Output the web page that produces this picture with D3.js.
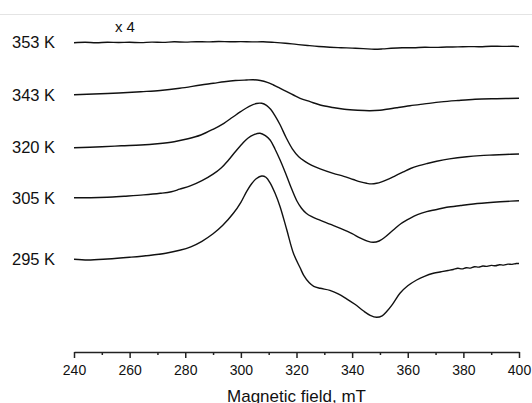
<!DOCTYPE html>
<html>
<head>
<meta charset="utf-8">
<script src="https://cdn.jsdelivr.net/npm/d3@7"></script>
<style>
  html, body { margin: 0; padding: 0; background: #fff; }
  svg { display: block; font-family: Arial, "Liberation Sans", sans-serif; }
</style>
</head>
<body>
<div id="chart"></div>
<script>
// EPR spectra, first derivative, stacked by temperature
const temperatures = ['353 K', '343 K', '320 K', '305 K', '295 K'];
// vertical stacking offsets (arbitrary units)
const offsets = [309.7, 257.3, 204.7, 154.3, 92.7];
const fieldTicks = [240, 260, 280, 300, 320, 340, 360, 380, 400];
const minorTicks = [250, 270, 290, 310, 330, 350, 370, 390];

// [field mT, signal]
const spec353 = [[240, -0.4], [244, 0], [248, -0.4], [252, 0.1], [256, -0.2], [260, 0], [264, -0.3], [268, 0.2],
  [272, -0.1], [276, 0.5], [280, 0.2], [284, 0.6], [288, 0.4], [292, 0.8], [296, 0.5], [300, 0.7], [304, 0.4],
  [308, 0.5], [312, -0.1], [316, -0.9], [320, -2.1], [324, -3.2], [328, -4.2], [332, -4.9], [336, -5.4], [340, -5.8],
  [344, -6.3], [348, -6.9], [351, -6.6], [354, -6], [358, -5.5], [362, -5.5], [366, -5], [370, -5.1], [374, -4.7],
  [378, -4.6], [382, -4.3], [386, -4.4], [390, -3.9], [394, -4.1], [398, -4], [400, -4.3]];

const spec343 = [[240, 0], [252, 1.2], [264, 3], [271, 4.2], [278, 6.4], [285.6, 9.7], [290.1, 11.4], [294, 13],
  [298, 14.2], [302, 14.7], [304.5, 14.9], [307, 14.2], [309.5, 12.4], [311.7, 9.7], [314, 6.5], [316.5, 3],
  [318.9, -0.3], [321.3, -3.6], [324.9, -7], [328.5, -10.3], [333, -12.8], [337.2, -14.6], [342, -15.6],
  [346.4, -16], [350, -15.5], [352.4, -14.6], [356, -13], [360.8, -11], [366, -9.2], [372, -7.2], [378, -5.8],
  [384.2, -4.6], [392, -4], [400, -3.6]];

const spec320 = [[240, -0.5], [250, 0.5], [257, 1.5], [264, 2.3], [270, 3.6], [276, 5.6], [281, 8.5], [285.6, 12.3],
  [290, 18], [293.9, 24], [297, 30], [299.9, 35.6], [303, 41], [305.6, 43.8], [307.5, 44], [309.2, 42], [310.7, 38],
  [312.3, 31.5], [314.1, 22.5], [316.3, 9.5], [318.5, -1.5], [320.8, -9.4], [323, -14], [325.5, -18],
  [328.5, -21.5], [333.2, -26], [337, -29], [340.4, -32.2], [343, -34.6], [345.2, -36], [347, -36.6],
  [348.8, -36], [350.6, -34.5], [352.6, -32.3], [355.5, -28.5], [358.4, -24.6], [361, -21.2], [364, -18.4],
  [367, -16.2], [370.4, -14], [375, -11.6], [381.2, -9.4], [386, -8.3], [390.8, -7.7], [395, -7.2], [400, -6.7]];

const spec305 = [[240, 0], [246, 0], [252, 0.5], [258, 1.5], [265, 2.8], [271, 4.4], [275, 6], [278, 8.5],
  [282, 12], [286, 17], [290, 23.5], [293, 30], [295.5, 37.5], [298, 46], [300.5, 54], [302.5, 59.5], [304.7, 63],
  [306.9, 64.4], [308.8, 62], [310.5, 57.7], [312.3, 48.5], [314.1, 37.7], [316, 25], [317.8, 12], [320.1, -3],
  [321.8, -10.5], [323.5, -15.5], [325.5, -19], [328, -22], [332, -26.5], [336, -31], [340, -36], [342.8, -40.2],
  [345.5, -43.4], [347.6, -44.6], [349.7, -43.3], [352, -39], [354.8, -32.3], [357.5, -26], [360.8, -20.6],
  [363.5, -17], [366.8, -14], [370, -12], [374, -9.6], [379, -7.8], [383.6, -6.3], [390.8, -4.6],
  [395, -3.8], [400, -3]];

const spec295 = [[240, 0], [245, -0.7], [252, 0.3], [260, 2], [267, 3.8], [273, 6], [278, 9], [282, 12.5],
  [286, 18], [290, 25.5], [293.5, 34], [297.3, 46], [300, 57], [302.1, 68], [304, 76], [305.5, 80.5], [307.5, 83.3],
  [309, 82], [310.5, 76.5], [312.3, 66], [314.1, 52.6], [316.5, 29.5], [318.9, 6], [321.3, -8.5], [322.6, -16],
  [324.6, -23.5], [326.2, -27], [328.5, -29], [332, -31], [335, -34.5], [338, -39.5], [341, -45], [344, -51.5],
  [346.5, -56], [348.8, -58], [350.8, -56.5], [352.5, -52], [354.5, -45], [357.2, -34], [360, -26.5],
  [363.2, -20.7], [366, -17], [369.2, -14], [372, -12.5], [374.5, -11.2], [376.4, -10.2], [378, -9],
  [379.5, -9.6], [381, -8.4], [382.5, -8.8], [384, -7.4], [385.5, -7.8], [387, -6.7], [388.5, -7.1],
  [390, -6.1], [391.5, -6.5], [393, -5.4], [394.5, -5.8], [396, -4.8], [397.5, -5.1], [399, -4.2], [400, -4.2]];

const spectra = [spec353, spec343, spec320, spec305, spec295];

const width = 532, height = 403;

const svg = d3.select('#chart').append('svg')
  .attr('width', width)
  .attr('height', height);

const x = d3.scaleLinear().domain([240, 400]).range([74, 519]);
const y = d3.scaleLinear().domain([0, 340]).range([352, 12]);

// faint frame line at the top
svg.append('line')
  .attr('x1', 0).attr('x2', width)
  .attr('y1', 14.5).attr('y2', 14.5)
  .attr('stroke', '#e4e4e4')
  .attr('stroke-width', 1);

const line = d3.line()
  .x(d => x(d[0]))
  .y(d => y(d[1]))
  .curve(d3.curveCatmullRom.alpha(0.5));

// curves
spectra.forEach((spec, i) => {
  svg.append('path')
    .datum(spec.map(p => [p[0], p[1] + offsets[i]]))
    .attr('d', line)
    .attr('fill', 'none')
    .attr('stroke', '#111')
    .attr('stroke-width', 1.4);
});

// temperature labels at curve baselines
svg.append('g')
  .selectAll('text')
  .data(temperatures)
  .join('text')
  .attr('x', 12)
  .attr('y', (d, i) => y(offsets[i]))
  .attr('dy', '0.36em')
  .attr('font-size', 16.5)
  .attr('fill', '#111')
  .text(d => d);

svg.append('text')
  .attr('x', x(254.7))
  .attr('y', 32)
  .attr('font-size', 15)
  .attr('fill', '#111')
  .text('x 4');

// x axis
const axis = svg.append('g')
  .attr('transform', 'translate(0,352)')
  .call(d3.axisBottom(x).tickValues(fieldTicks).tickSize(6).tickSizeOuter(0).tickPadding(7));
axis.select('.domain').attr('stroke', '#222').attr('stroke-width', 1.5);
axis.selectAll('.tick line').attr('stroke', '#222').attr('stroke-width', 1.5);
axis.selectAll('.tick text').attr('font-size', 14).attr('fill', '#111')
  .attr('font-family', 'Arial, "Liberation Sans", sans-serif');

const minor = svg.append('g')
  .attr('transform', 'translate(0,352)')
  .call(d3.axisBottom(x).tickValues(minorTicks).tickSize(3).tickFormat(''));
minor.select('.domain').remove();
minor.selectAll('.tick line').attr('stroke', '#222').attr('stroke-width', 1.5);

// axis title, partly clipped by the bottom edge as in the source figure
svg.append('text')
  .attr('x', (x.range()[0] + x.range()[1]) / 2)
  .attr('y', 401.5)
  .attr('text-anchor', 'middle')
  .attr('font-size', 17)
  .attr('fill', '#111')
  .text('Magnetic field, mT');
</script>
</body>
</html>
